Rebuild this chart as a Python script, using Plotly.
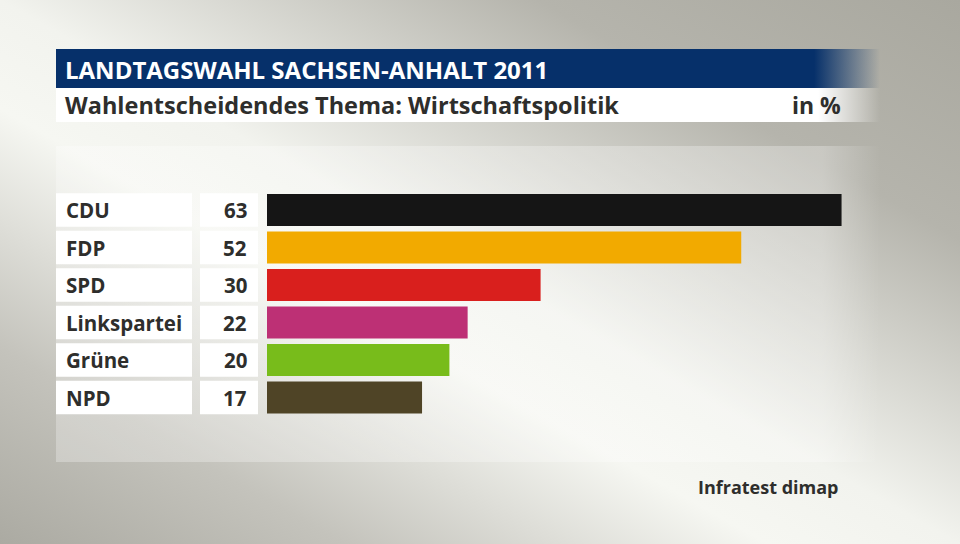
import base64
import plotly.graph_objects as go

# ---- data ----
parties = ["CDU", "FDP", "SPD", "Linkspartei", "Grüne", "NPD"]
values = [63, 52, 30, 22, 20, 17]
colors = ["#151515", "#f2aa00", "#d91f1d", "#bd3075", "#78bc1b", "#4f4426"]
title = "LANDTAGSWAHL SACHSEN-ANHALT 2011"
subtitle = "Wahlentscheidendes Thema: Wirtschaftspolitik"
unit = "in %"
source = "Infratest dimap"

W, H = 960, 544
FONT = "Open Sans"
TXT = "#2e2e2c"


def px(x):
    return x / W


def py(y):
    return 1 - y / H


def svg_uri(svg):
    return "data:image/svg+xml;base64," + base64.b64encode(svg.encode("utf-8")).decode("ascii")


bg_svg = f"""<svg xmlns='http://www.w3.org/2000/svg' width='{W}' height='{H}' viewBox='0 0 {W} {H}' preserveAspectRatio='none'>
<defs><linearGradient id='g' x1='0' y1='1' x2='1' y2='0'>
<stop offset='0' stop-color='#abaaa2'/>
<stop offset='0.18' stop-color='#c4c3bc'/>
<stop offset='0.40' stop-color='#f6f7f2'/>
<stop offset='0.50' stop-color='#f2f3ee'/>
<stop offset='0.78' stop-color='#b5b4ac'/>
<stop offset='1' stop-color='#a9a89f'/>
</linearGradient></defs>
<rect width='{W}' height='{H}' fill='url(#g)'/></svg>"""


def fade_bar(w, h, color, opacity, fade_start):
    return f"""<svg xmlns='http://www.w3.org/2000/svg' width='{w}' height='{h}' viewBox='0 0 {w} {h}' preserveAspectRatio='none'>
<defs><linearGradient id='f' x1='0' y1='0' x2='1' y2='0'>
<stop offset='0' stop-color='{color}' stop-opacity='{opacity}'/>
<stop offset='{fade_start}' stop-color='{color}' stop-opacity='{opacity}'/>
<stop offset='1' stop-color='{color}' stop-opacity='0'/>
</linearGradient></defs>
<rect width='{w}' height='{h}' fill='url(#f)'/></svg>"""


def img(svg, x0, y0, x1, y1):
    return dict(source=svg_uri(svg), xref="paper", yref="paper",
                x=px(x0), y=py(y0), sizex=px(x1) - px(x0), sizey=(y1 - y0) / H,
                xanchor="left", yanchor="top", sizing="stretch", layer="below")


images = [
    img(bg_svg, 0, 0, W, H),
    img(fade_bar(824, 316, "#ffffff", 0.28, 0.93), 56, 146, 880, 462),
    img(fade_bar(824, 39, "#06306a", 1, 0.92), 56, 49, 880, 88),
    img(fade_bar(824, 34, "#ffffff", 1, 0.925), 56, 88, 880, 122),
]

fig = go.Figure()
fig.add_trace(go.Bar(
    x=values, y=parties, orientation="h",
    marker=dict(color=colors, line=dict(width=0)),
    hoverinfo="skip",
))

shapes = []
annotations = []
half = 0.447
for i, (p, v) in enumerate(zip(parties, values)):
    shapes.append(dict(type="rect", xref="paper", yref="y", x0=px(56), x1=px(192),
                       y0=i - half, y1=i + half, fillcolor="#ffffff", line=dict(width=0), layer="below"))
    shapes.append(dict(type="rect", xref="paper", yref="y", x0=px(200), x1=px(258),
                       y0=i - half, y1=i + half, fillcolor="#ffffff", line=dict(width=0), layer="below"))
    annotations.append(dict(text=p, xref="paper", yref="y", x=px(64), y=p, xanchor="left",
                            yanchor="middle", showarrow=False,
                            font=dict(family=FONT, size=20.5, color=TXT, weight=700)))
    annotations.append(dict(text=str(v), xref="paper", yref="y", x=px(249), y=p, xanchor="right",
                            yanchor="middle", showarrow=False,
                            font=dict(family=FONT, size=20.5, color=TXT, weight=700)))

annotations += [
    dict(text=title, xref="paper", yref="paper", x=px(63), y=py(69), xanchor="left", yanchor="middle",
         showarrow=False, font=dict(family=FONT, size=24, color="#ffffff", weight=700)),
    dict(text=subtitle, xref="paper", yref="paper", x=px(63), y=py(105), xanchor="left", yanchor="middle",
         showarrow=False, font=dict(family=FONT, size=23.5, color=TXT, weight=700)),
    dict(text=unit, xref="paper", yref="paper", x=px(843), y=py(105), xanchor="right", yanchor="middle",
         showarrow=False, font=dict(family=FONT, size=23, color=TXT, weight=700)),
    dict(text=source, xref="paper", yref="paper", x=px(841), y=py(487), xanchor="right", yanchor="middle",
         showarrow=False, font=dict(family=FONT, size=18, color=TXT, weight=700)),
]

scale = 9.12  # px per percentage point
x_left, x_right = 267, 880
row_top, row_bottom = 191.25, 416.25

fig.update_layout(
    width=W, height=H,
    margin=dict(l=0, r=0, t=0, b=0),
    paper_bgcolor="#d8d8d2",
    plot_bgcolor="rgba(0,0,0,0)",
    showlegend=False,
    bargap=0.147,
    images=images,
    shapes=shapes,
    annotations=annotations,
    xaxis=dict(domain=[px(x_left), px(x_right)], range=[0, (x_right - x_left) / scale],
               visible=False, fixedrange=True),
    yaxis=dict(domain=[py(row_bottom), py(row_top)], range=[len(parties) - 0.5, -0.5],
               type="category", categoryorder="array", categoryarray=parties,
               visible=False, fixedrange=True),
)

fig.write_html("out.html", config={"displayModeBar": False},
               post_script="document.body.style.margin='0';document.body.style.overflow='hidden';")
